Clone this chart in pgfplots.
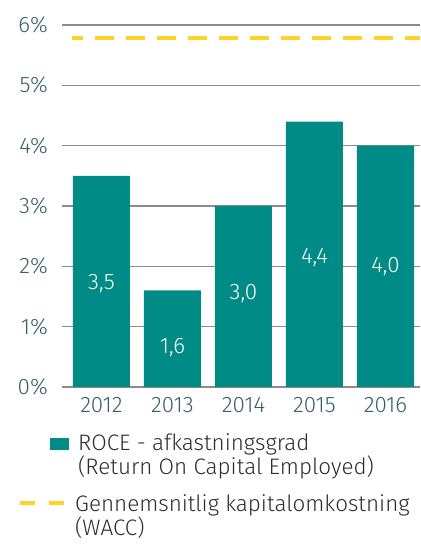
\documentclass[border=0pt]{standalone}
\usepackage{fontspec}
\setmainfont{Fira Sans}[UprightFont=* Light]
\usepackage{pgfplots}
\pgfplotsset{compat=1.18}
\definecolor{barc}{RGB}{0,139,135}
\definecolor{wacc}{RGB}{255,210,40}
\definecolor{tickc}{RGB}{55,95,105}
\definecolor{gridc}{RGB}{140,140,140}
\definecolor{legc}{RGB}{45,45,45}
\newcommand{\ff}{\fontsize{22.5}{27}\selectfont}
\begin{document}
\begin{tikzpicture}[x=1bp,y=1bp]
\useasboundingbox (0,0) rectangle (420,549);
\begin{axis}[
  at={(62bp,162bp)}, anchor=south west,
  scale only axis, width=358bp, height=362bp,
  xmin=-0.556, xmax=4.486, ymin=0, ymax=6,
  axis line style={draw=none},
  tick style={draw=none},
  ymajorgrids, grid style={gridc, line width=1.2bp},
  ytick={0,1,2,3,4,5,6},
  yticklabels={0\%,1\%,2\%,3\%,4\%,5\%,6\%},
  xtick={0,1,2,3,4},
  xticklabels={2012,2013,2014,2015,2016},
  ticklabel style={font=\ff, text=tickc},
  yticklabel style={anchor=east, inner sep=0pt, xshift=-14bp},
  xticklabel style={anchor=north, inner sep=0pt, yshift=-10bp},
  clip=true,
]
\addplot[ybar, bar width=57bp, fill=barc, draw=none] coordinates {(0,3.5)(1,1.6)(2,3.0)(3,4.4)(4,4.0)};
\addplot[draw=none, mark=none, nodes near coords, point meta=explicit symbolic,
  every node near coord/.append style={anchor=center, text=white, font=\ff}]
  coordinates {(0,1.72)[3,5] (1,0.66)[1,6] (2,1.55)[3,0] (3,2.14)[4,4] (4,1.99)[4,0]};
\addplot[wacc, line width=4bp, dash pattern=on 19bp off 12bp, dash phase=8bp] coordinates {(-0.415,5.79)(4.486,5.79)};
\end{axis}
\fill[barc] (50,99) rectangle (69,111);
\node[anchor=base west, inner sep=0pt, text=legc, font=\ff] at (78,98) {ROCE - afkastningsgrad};
\node[anchor=base west, inner sep=0pt, text=legc, font=\ff] at (78,74) {(Return On Capital Employed)};
\draw[wacc, line width=4bp, dash pattern=on 15bp off 14bp] (20,46) -- (64,46);
\node[anchor=base west, inner sep=0pt, text=legc, font=\ff] at (75,37) {Gennemsnitlig kapitalomkostning};
\node[anchor=base west, inner sep=0pt, text=legc, font=\ff] at (75,13) {(WACC)};
\end{tikzpicture}
\end{document}
